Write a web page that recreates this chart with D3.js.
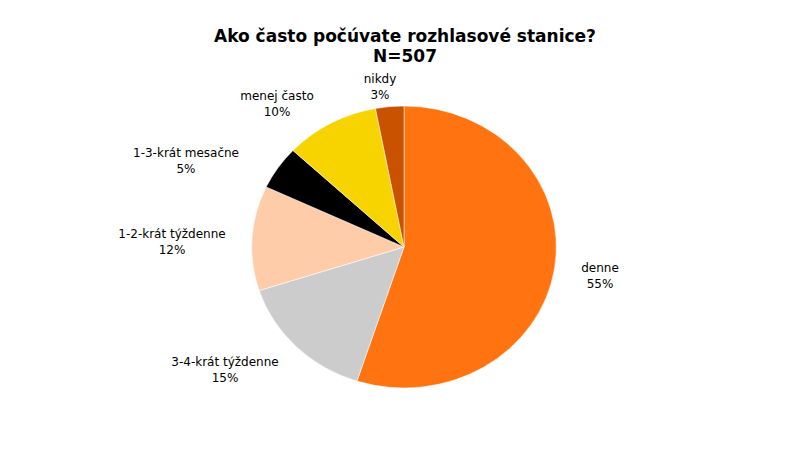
<!DOCTYPE html><html><head><script src="https://cdn.jsdelivr.net/npm/d3@7"></script>
<style>body{margin:0;background:#fff}</style></head><body><script>
const categories=["denne","3-4-krát týždenne","1-2-krát týždenne","1-3-krát mesačne","menej často","nikdy"];
const values=[55,15,12,5,10,3];
const colors=["#FF7410","#CCCCCC","#FFCCAA","#000000","#F7D300","#C85200"];
const labelPos=[[600,272],[225,366],[172,238],[186,157],[277,100],[380,83]];
const W=800,H=450,cx=404,cy=247,r=141;
const svg=d3.select("body").append("svg").attr("width",W).attr("height",H).style("font-family","DejaVu Sans, Verdana, sans-serif");
svg.append("text").attr("x",405).attr("y",42).attr("text-anchor","middle").attr("font-weight","bold").attr("font-size",17).text("Ako často počúvate rozhlasové stanice?");
svg.append("text").attr("x",405).attr("y",62).attr("text-anchor","middle").attr("font-weight","bold").attr("font-size",17).text("N=507");
const pie=d3.pie().sort(null).value(d=>d)(values);
const arc=d3.arc().innerRadius(0).outerRadius(r);
const g=svg.append("g").attr("transform",`translate(${cx},${cy}) scale(1.08,1)`);
g.selectAll("path").data(pie).join("path").attr("d",arc).attr("fill",(d,i)=>colors[i]).attr("stroke","#fff").attr("stroke-width",0.5);
categories.forEach((c,i)=>{
 const t=svg.append("text").attr("text-anchor","middle").attr("font-size",12).attr("x",labelPos[i][0]).attr("y",labelPos[i][1]);
 t.append("tspan").attr("x",labelPos[i][0]).text(c);
 t.append("tspan").attr("x",labelPos[i][0]).attr("dy",16).text(values[i]+"%");
});
</script></body></html>
